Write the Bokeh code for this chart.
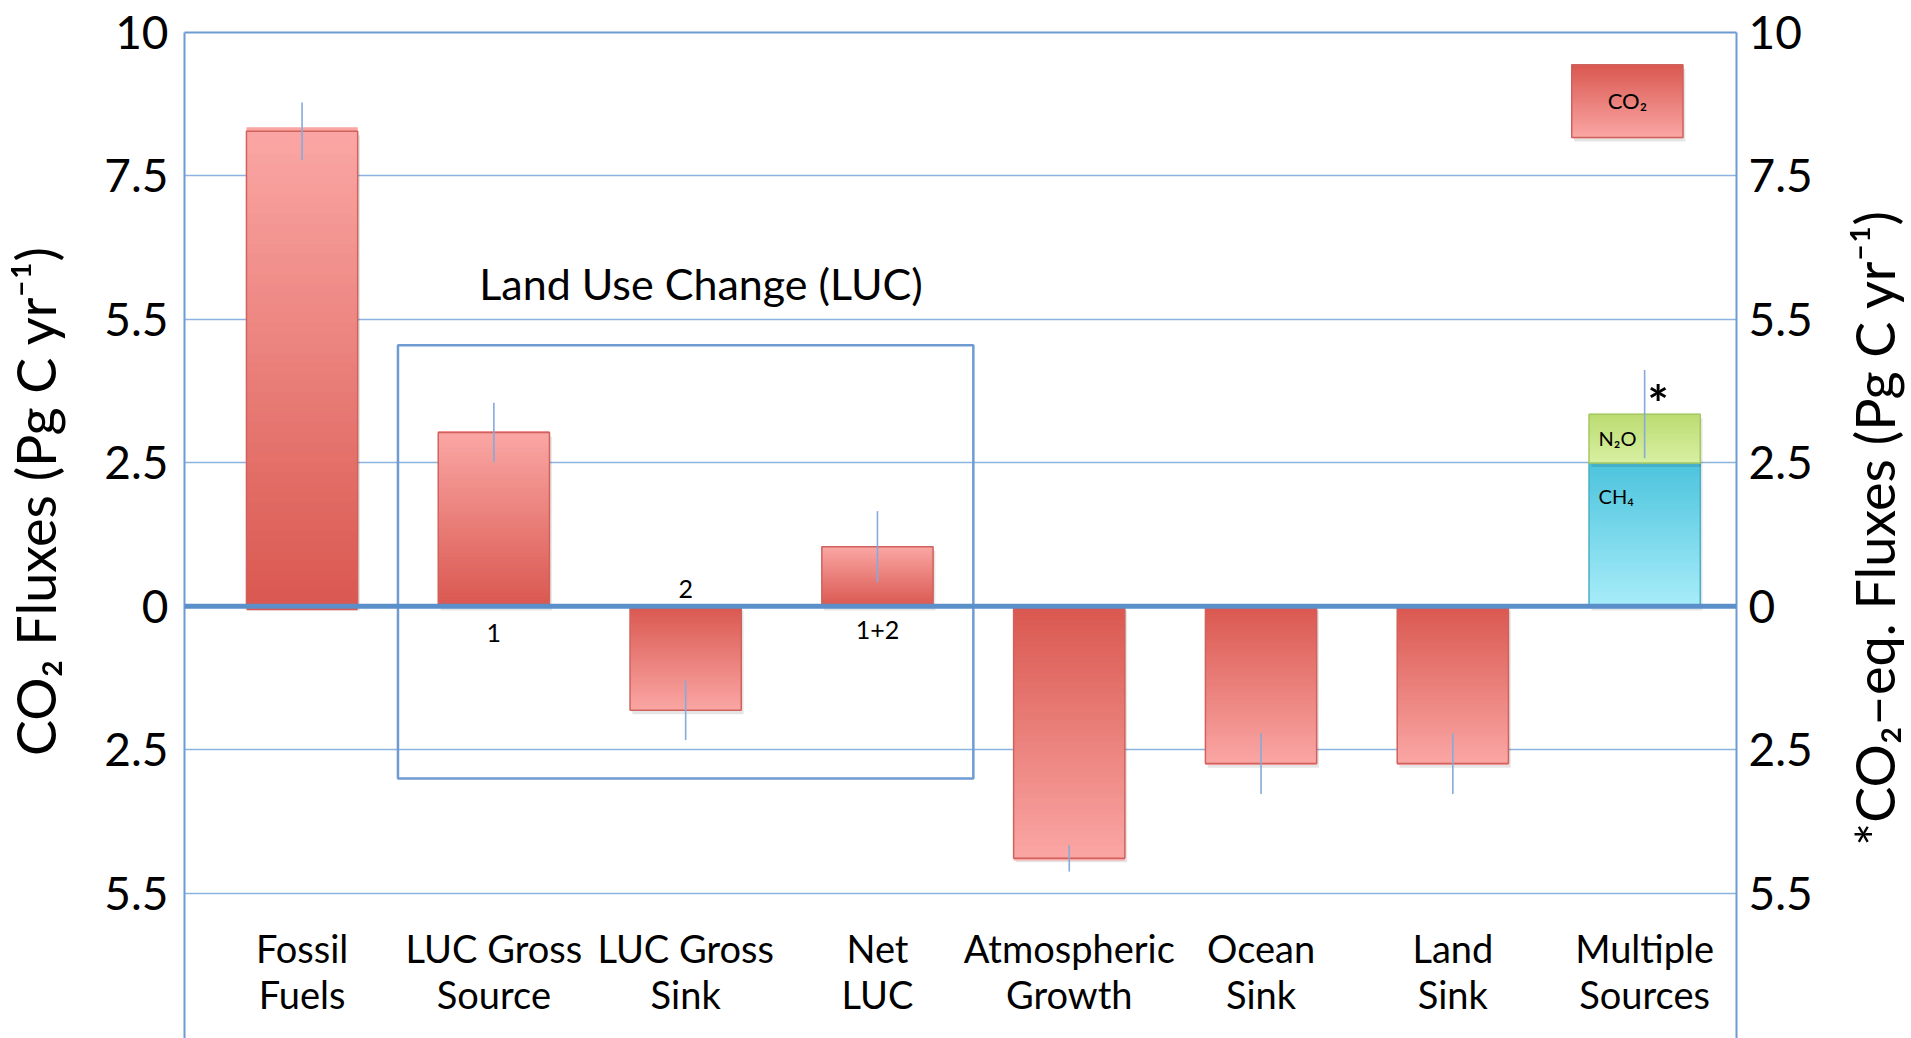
import numpy as np
from bokeh.plotting import figure
from bokeh.layouts import row
from bokeh.models import Range1d, LinearAxis, FixedTicker, Span, ColumnDataSource
from bokeh.core.properties import value
from bokeh.embed import file_html
from bokeh.resources import INLINE

# ---------------- data ----------------
categories = ["Fossil\nFuels", "LUC Gross\nSource", "LUC Gross\nSink", "Net\nLUC",
              "Atmospheric\nGrowth", "Ocean\nSink", "Land\nSink", "Multiple\nSources"]
co2_flux = [8.28, 3.03, -1.81, 1.04, -4.39, -2.74, -2.74]
co2_err = [0.50, 0.52, 0.52, 0.62, 0.23, 0.53, 0.53]
ch4_eq = [2.50]
n2o_eq = [0.85]
multi_err = [0.77]
y_ticks = [10, 7.5, 5, 2.5, 0, -2.5, -5]
y_tick_labels = ["10", "7.5", "5.5", "2.5", "0", "2.5", "5.5"]
luc_marks = ["1", "2", "1+2"]
legend_label = ["CO₂"]
gas_labels = ["N₂O", "CH₄"]
left_title = "CO₂ Fluxes (Pg C yr⁻¹)"
right_title = "*CO₂–eq. Fluxes (Pg C yr⁻¹)"
luc_title = "Land Use Change (LUC)"

FONT = "Lato"
BLUE = "#6f9bd3"
GRID = "#8db3e0"
RED_DARK = "#d9574f"
RED_LIGHT = "#faa6a4"
BAR_W = 0.58
NB = "\u00a0"
MAIN_W, SIDE_W, H = 1836, 75, 1038

p = figure(width=MAIN_W, height=H,
           x_range=Range1d(-0.613, 7.479), y_range=Range1d(-7.53, 10),
           x_axis_location=None, y_axis_location="left",
           output_backend="svg", toolbar_location=None,
           min_border_left=184, min_border_right=MAIN_W - 1736, min_border_top=32,
           min_border_bottom=0)
p.outline_line_color = None
p.background_fill_color = "white"
p.border_fill_color = "white"

# grid
p.ygrid.ticker = FixedTicker(ticks=[t for t in y_ticks if t not in (0, 10)])
p.ygrid.grid_line_color = GRID
p.ygrid.grid_line_width = 1.6
p.xgrid.visible = False

def style_axis(ax):
    ax.ticker = FixedTicker(ticks=y_ticks)
    ax.major_label_overrides = {t: l for t, l in zip(y_ticks, y_tick_labels)}
    ax.major_tick_line_color = None
    ax.minor_tick_line_color = None
    ax.major_tick_out = 0
    ax.major_tick_in = 0
    ax.axis_line_color = BLUE
    ax.axis_line_width = 2
    ax.major_label_text_font = FONT
    ax.major_label_text_font_size = "46px"
    ax.major_label_text_color = "black"
    ax.axis_label_text_font = FONT
    ax.axis_label_text_font_size = "54px"
    ax.axis_label_text_font_style = "normal"
    ax.axis_label_text_color = "black"

style_axis(p.yaxis[0])
p.yaxis[0].major_label_standoff = 16
p.yaxis[0].axis_label = NB * 5 + left_title
p.yaxis[0].axis_label_standoff = 33

right = LinearAxis()
style_axis(right)
right.major_label_standoff = 12
p.add_layout(right, "right")

top = LinearAxis(ticker=FixedTicker(ticks=[]), axis_line_color=BLUE, axis_line_width=2,
                 major_tick_line_color=None, minor_tick_line_color=None,
                 major_label_text_font_size="0px")
p.add_layout(top, "above")

# zero line
p.add_layout(Span(location=0, dimension="width", line_color="#5b8fc9", line_width=5))

def hex2rgb(h):
    h = h.lstrip("#")
    return np.array([int(h[i:i + 2], 16) for i in (0, 2, 4)], dtype=float)

def gradient_bar(x, y0, y1, c0, c1, w=BAR_W, line="#cf625c", n=48):
    a, b = hex2rgb(c0), hex2rgb(c1)
    edges = np.linspace(y0, y1, n + 1)
    lo = np.minimum(edges[:-1], edges[1:])
    hi = np.maximum(edges[:-1], edges[1:])
    pad = abs(y1 - y0) / n * 0.4
    t = (np.arange(n) + 0.5) / n
    cols = ["#%02x%02x%02x" % tuple(int(round(v)) for v in (a + (b - a) * ti)) for ti in t]
    # soft shadow
    p.quad(left=[x - w / 2 + 0.012], right=[x + w / 2 + 0.012],
           bottom=[min(y0, y1) - 0.07], top=[max(y0, y1) - 0.07],
           fill_color="black", fill_alpha=0.10, line_color=None)
    src = ColumnDataSource(dict(left=[x - w / 2] * n, right=[x + w / 2] * n,
                                bottom=lo - pad, top=hi + pad, color=cols))
    p.quad(left="left", right="right", bottom="bottom", top="top", source=src,
           fill_color="color", line_color=None)
    p.quad(left=[x - w / 2], right=[x + w / 2], bottom=[min(y0, y1)], top=[max(y0, y1)],
           fill_color=None, line_color=line, line_width=1.5)

x_idx = np.arange(len(categories))

# LUC group box
p.quad(left=[0.5], right=[3.5], bottom=[-3.0], top=[4.55], fill_color=None,
       line_color=BLUE, line_width=2.5)

# CO2 bars
for i, v in enumerate(co2_flux):
    gradient_bar(x_idx[i], 0, v, RED_DARK, RED_LIGHT)

# Multiple sources: stacked CH4 + N2O
xm = x_idx[7]
gradient_bar(xm, 0, ch4_eq[0], "#a9edf9", "#4cc4dd", line="#4aaec6")
gradient_bar(xm, ch4_eq[0], ch4_eq[0] + n2o_eq[0], "#d8f0a3", "#bcdc72", line="#a4c862")

# error bars
err_x = list(x_idx[:7]) + [xm]
err_c = list(co2_flux) + [ch4_eq[0] + n2o_eq[0]]
err_e = list(co2_err) + [multi_err[0]]
p.segment(x0=err_x, x1=err_x,
          y0=[c - e for c, e in zip(err_c, err_e)], y1=[c + e for c, e in zip(err_c, err_e)],
          line_color="#86aadb", line_width=1.6)

# legend box
gradient_bar(6.91, 9.44, 8.17, RED_DARK, RED_LIGHT)
p.text(x=[6.91], y=[8.81], text=legend_label, text_font=value(FONT), text_font_size="22px",
       text_align="center", text_baseline="middle", text_color="black")

# gas labels
p.text(x=[xm - BAR_W / 2 + 0.05] * 2, y=[2.94, 1.93], text=gas_labels, text_font=value(FONT),
       text_font_size="20px", text_align="left", text_baseline="middle", text_color="black")
p.text(x=[xm + 0.07], y=[3.55], text=["*"], text_font=value(FONT), text_font_size="50px",
       text_font_style="bold", text_align="center", text_baseline="middle", text_color="black")

# LUC title and markers
p.text(x=[2.08], y=[5.63], text=[luc_title], text_font=value(FONT),
       text_font_size="43px", text_align="center", text_baseline="middle", text_color="black")
p.text(x=list(x_idx[1:4]), y=[-0.47, 0.30, -0.42], text=luc_marks, text_font=value(FONT),
       text_font_size="25px", text_align="center", text_baseline="middle", text_color="black")

# category labels (inside plot area)
line1 = [c.split("\n")[0] for c in categories]
line2 = [c.split("\n")[1] for c in categories]
p.text(x=list(x_idx), y=[-5.96] * len(categories), text=line1, text_font=value(FONT),
       text_font_size="38px", text_align="center", text_baseline="middle", text_color="black")
p.text(x=list(x_idx), y=[-6.76] * len(categories), text=line2, text_font=value(FONT),
       text_font_size="38px", text_align="center", text_baseline="middle", text_color="black")

# right-hand axis title (reads bottom to top) in a narrow side panel
side = figure(width=SIDE_W, height=H, x_range=Range1d(0, SIDE_W), y_range=Range1d(H, 0),
              x_axis_location=None, y_axis_location=None,
              output_backend="svg", toolbar_location=None,
              min_border_left=0, min_border_right=0, min_border_top=0, min_border_bottom=0)
side.outline_line_color = None
side.xgrid.visible = False
side.ygrid.visible = False
side.text(x=[38], y=[511], text=[right_title], angle=np.pi / 2, text_font=value(FONT),
          text_font_size="54px", text_align="center", text_baseline="middle",
          text_color="black")

layout = row(p, side, spacing=0)
open("out.html", "w").write(file_html(layout, INLINE))
